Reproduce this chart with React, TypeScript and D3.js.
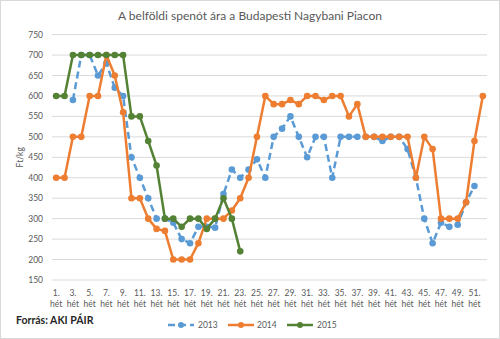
import React from "react";
import * as d3 from "d3";

const weeks: number[] = Array.from({ length: 52 }, (_, i) => i + 1);
const yTicks: number[] = [150, 200, 250, 300, 350, 400, 450, 500, 550, 600, 650, 700, 750];

const s2013: (number | null)[] = [
  null, null, 590, 700, 700, 650, 680, 620, 600, 450,
  400, 350, 300, 300, 290, 250, 240, 280, 280, 278,
  360, 420, 400, 420, 445, 400, 500, 520, 550, 500,
  450, 500, 500, 400, 500, 500, 500, 500, 500, 490,
  500, 500, 470, 400, 300, 240, 290, 280, 285, 340,
  380, null,
];
const s2014: (number | null)[] = [
  400, 400, 500, 500, 600, 600, 700, 650, 560, 350,
  350, 300, 275, 270, 200, 200, 200, 240, 300, 300,
  300, 320, 350, 400, 500, 600, 580, 580, 590, 580,
  600, 600, 590, 600, 600, 550, 580, 500, 500, 500,
  500, 500, 500, 400, 500, 470, 300, 300, 300, 340,
  490, 600,
];
const s2015: (number | null)[] = [
  600, 600, 700, 700, 700, 700, 700, 700, 700, 550,
  550, 490, 430, 300, 300, 280, 300, 300, 275, 300,
  350, 300, 220,
];

const seriesNames = ["2013", "2014", "2015"];
const seriesData = [s2013, s2014, s2015];
const colors = ["#5B9BD5", "#ED7D31", "#548235"];
const dashes = ["7,4", null, null];

const FONT = "Lato, 'Open Sans', sans-serif";

export default function App() {
  const W = 500, H = 339;
  const x = d3.scaleBand<number>().domain(weeks).range([52, 487]);
  const y = d3.scaleLinear().domain([150, 750]).range([280, 34.6]);
  const cx = (w: number) => (x(w) as number) + x.bandwidth() / 2;

  const line = d3
    .line<{ w: number; v: number | null }>()
    .defined((d) => d.v !== null)
    .x((d) => cx(d.w))
    .y((d) => y(d.v as number));

  const legendItems = [
    { sx: 168, tx: 198 },
    { sx: 228, tx: 257 },
    { sx: 287, tx: 317 },
  ];

  return (
    <svg
      width={W}
      height={H}
      style={{ position: "fixed", left: 0, top: 0, background: "#fff" }}
      fontFamily={FONT}
    >
      <rect x={0.5} y={0.5} width={W - 1} height={H - 1} fill="#fff" stroke="#D9D9D9" />
      <text x={250} y={20} textAnchor="middle" fontSize={12} fill="#595959">
        A belföldi spenót  ára a Budapesti Nagybani Piacon
      </text>
      {yTicks.map((t) => (
        <g key={t}>
          <line x1={52} x2={487} y1={y(t)} y2={y(t)} stroke="#D9D9D9" strokeWidth={1} />
          <text x={43} y={y(t) + 3} textAnchor="end" fontSize={8.5} fill="#595959">
            {t}
          </text>
        </g>
      ))}
      <text
        transform={`translate(23,${y(450)}) rotate(-90)`}
        textAnchor="middle"
        fontSize={8.5}
        fill="#595959"
      >
        Ft/kg
      </text>
      {weeks
        .filter((w) => w % 2 === 1)
        .map((w) => (
          <g key={w} fill="#595959" fontSize={8.5}>
            <text x={cx(w)} y={296} textAnchor="middle">
              {w}.
            </text>
            <text x={cx(w)} y={307} textAnchor="middle">
              hét
            </text>
          </g>
        ))}
      {seriesData.map((data, si) => {
        const pts = data.map((v, i) => ({ w: weeks[i], v }));
        return (
          <g key={si}>
            <path
              d={line(pts) || ""}
              fill="none"
              stroke={colors[si]}
              strokeWidth={2.5}
              strokeDasharray={dashes[si] || undefined}
              strokeLinejoin="round"
            />
            {pts
              .filter((p) => p.v !== null)
              .map((p) => (
                <circle key={p.w} cx={cx(p.w)} cy={y(p.v as number)} r={3.3} fill={colors[si]} />
              ))}
          </g>
        );
      })}
      <text x={16} y={324} fontSize={10.5} fontWeight="bold" fill="#262626">
        Forrás: AKI PÁIR
      </text>
      {legendItems.map((li, i) => (
        <g key={i}>
          <line
            x1={li.sx}
            x2={li.sx + 26}
            y1={325}
            y2={325}
            stroke={colors[i]}
            strokeWidth={2.5}
            strokeDasharray={dashes[i] || undefined}
          />
          <circle cx={li.sx + 13} cy={325} r={3} fill={colors[i]} />
          <text x={li.tx} y={328} fontSize={8.5} fill="#595959">
            {seriesNames[i]}
          </text>
        </g>
      ))}
    </svg>
  );
}
